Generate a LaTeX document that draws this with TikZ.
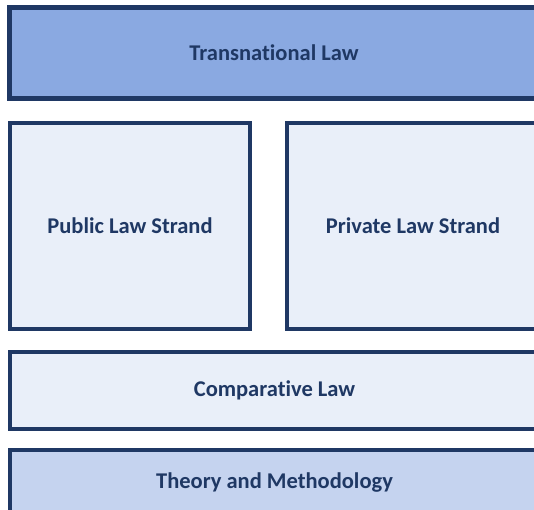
\documentclass[tikz,border=0pt]{standalone}
\usepackage{fontspec}
\setmainfont[Ligatures=NoCommon]{Carlito}
\usepackage{tikz}
\usetikzlibrary{positioning}

\definecolor{navy}{HTML}{1F3864}
\definecolor{midblue}{HTML}{8AA9E1}
\definecolor{paleblue}{HTML}{E9EFF9}
\definecolor{softblue}{HTML}{C5D3EF}

\begin{document}
\begin{tikzpicture}[x=1pt,y=-1pt,
    layer/.style={draw=navy,line width=4pt,fill=paleblue,text=navy,
      font=\fontsize{22.5}{26}\selectfont\bfseries,inner sep=0pt,outer sep=0pt,anchor=north west},
    top/.style={layer,line width=5pt,fill=midblue},
    base/.style={layer,fill=softblue}]
  \useasboundingbox (0,0) rectangle (534,509);
  \clip (0,0) rectangle (534,509);
  \node[top,minimum width=529pt,minimum height=91pt] (trans) at (9.5,7.5) {Transnational Law};
  \node[layer,minimum width=240pt,minimum height=206pt] (public) at (10,123) {Public Law Strand};
  \node[layer,minimum width=252pt,minimum height=206pt] (private) at (287,123) {Private Law Strand};
  \node[layer,minimum width=529pt,minimum height=77pt] (comp) at (10,352) {Comparative Law};
  \node[base,minimum width=529pt,minimum height=64pt] (theory) at (10,450) {Theory and Methodology};
\end{tikzpicture}
\end{document}
